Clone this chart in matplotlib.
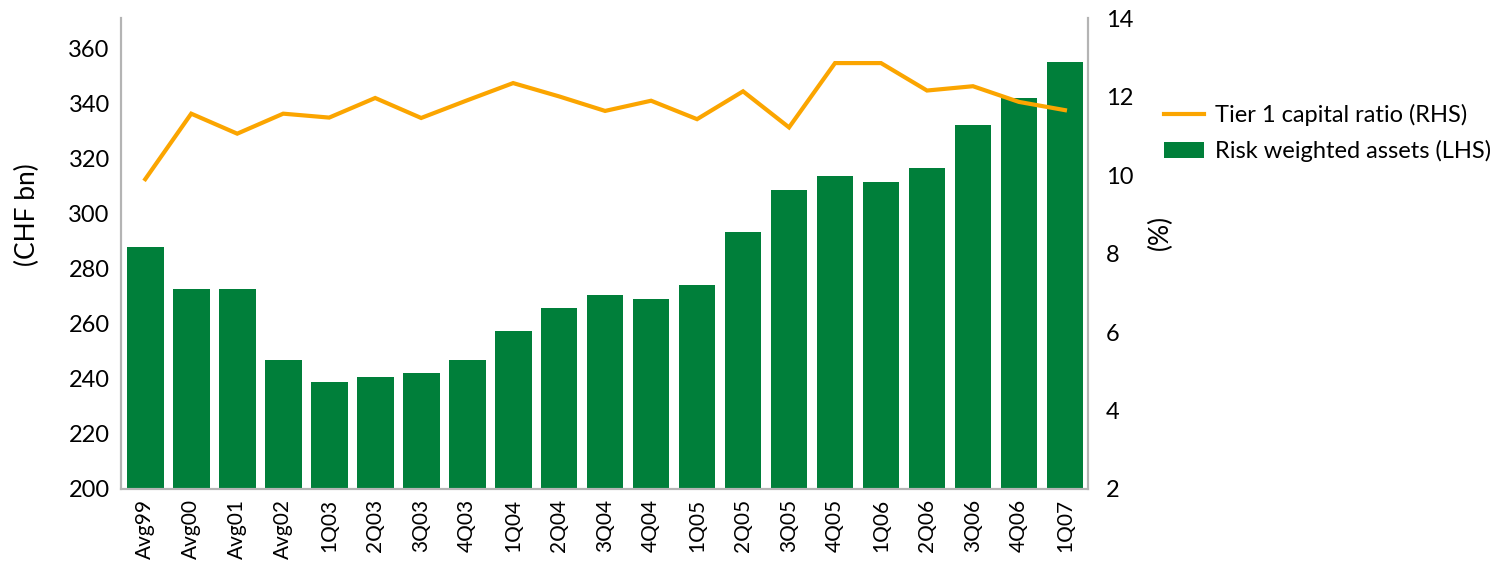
import matplotlib
matplotlib.use('Agg')
import matplotlib.pyplot as plt
import numpy as np
from matplotlib.lines import Line2D
from matplotlib.patches import Patch

plt.rcParams['font.family'] = ['Lato', 'DejaVu Sans']

periods = ['Avg99', 'Avg00', 'Avg01', 'Avg02', '1Q03', '2Q03', '3Q03', '4Q03',
           '1Q04', '2Q04', '3Q04', '4Q04', '1Q05', '2Q05', '3Q05', '4Q05',
           '1Q06', '2Q06', '3Q06', '4Q06', '1Q07']
# risk weighted assets, CHF bn (left axis)
rwa = [288.0, 272.7, 272.7, 246.9, 238.9, 240.7, 242.2, 246.9,
       257.5, 265.8, 270.5, 269.1, 274.2, 293.5, 308.7, 313.8,
       311.6, 316.5, 332.4, 342.2, 355.3]
# tier 1 capital ratio, % (right axis)
tier1 = [9.90, 11.57, 11.06, 11.57, 11.47, 11.97, 11.46, 11.91,
         12.35, 12.01, 11.64, 11.90, 11.43, 12.14, 11.22, 12.86,
         12.86, 12.16, 12.27, 11.87, 11.66]

green = '#007f3a'
orange = '#fba500'
grey = '#b4b4b4'

fig = plt.figure(figsize=(15.11, 5.67), dpi=100)
ax = fig.add_axes([0.080, 0.1376, 0.640, 0.830])
ax2 = ax.twinx()

x = np.arange(len(periods))
ax.bar(x, rwa, width=0.80, color=green, zorder=2)
ax2.plot(x, tier1, color=orange, linewidth=3.0, solid_joinstyle='miter')

ax.set_xlim(-0.53, len(periods) - 0.5)
ax.set_ylim(200, 371)
ax.set_yticks(np.arange(200, 361, 20))
ax2.set_ylim(2, 14)
ax2.set_yticks(np.arange(2, 15, 2))

ax.set_xticks(x)
ax.set_xticklabels(periods, rotation=90, fontsize=15)
ax.tick_params(axis='x', length=0, pad=7)
ax.tick_params(axis='y', length=0, pad=8, labelsize=17)
ax2.tick_params(axis='y', length=0, pad=13, labelsize=17)

for a in (ax, ax2):
    a.spines['top'].set_visible(False)
    for s in ('left', 'right', 'bottom'):
        a.spines[s].set_color(grey)
        a.spines[s].set_linewidth(1.5)

fig.text(27 / 1511, 1 - 215 / 567, '(CHF bn)', rotation=90, fontsize=19,
         ha='center', va='center')
fig.text(1160 / 1511, 1 - 232 / 567, '(%)', rotation=90, fontsize=19,
         ha='center', va='center')

handles = [Line2D([0], [0], color=orange, linewidth=3.0),
           Patch(facecolor=green)]
labels = ['Tier 1 capital ratio (RHS)', 'Risk weighted assets (LHS)']
fig.legend(handles, labels, loc='upper left', bbox_to_anchor=(1164 / 1511, 1 - 104 / 567),
           frameon=False, fontsize=17, handlelength=1.7, handleheight=0.7,
           handletextpad=0.45, labelspacing=0.6, borderpad=0, borderaxespad=0)

fig.savefig('out.png', dpi=100)
